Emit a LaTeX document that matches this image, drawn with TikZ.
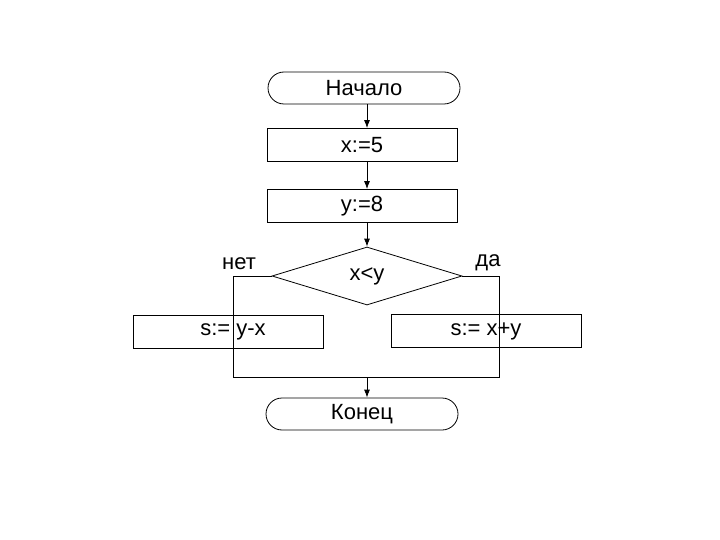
\documentclass[tikz,border=0pt]{standalone}
\usepackage{fontspec}
\setmainfont{Liberation Sans}
\usetikzlibrary{positioning}
\usetikzlibrary{arrows.meta}
\usetikzlibrary{shapes.geometric}
\tikzset{term/.style = {draw, rounded corners=16pt, minimum width=192pt,
                        minimum height=32pt, inner sep=0}}
\tikzset{proc/.style = {draw, minimum width=190pt, minimum height=33pt, inner sep=0}}
\tikzset{cond/.style = {draw, diamond, minimum width=190pt, minimum height=58pt, inner sep=0}}
\tikzset{flow/.style = {-{Latex[length=8pt,width=6pt]}}}
\tikzset{
  every picture/.style={
    every path/.style={line width=0.8pt},
    every node/.style={font=\fontsize{22}{26}\selectfont},
  }
}
\begin{document}
\begin{tikzpicture}[x=1pt,y=-1pt]
        \useasboundingbox (0,0) rectangle (720,540);
        \node[term] (start) at (364,88) {Начало};
        \node[proc] (setx) at (362,145) {\raisebox{-2pt}{x:=5}};
        \node[proc] (sety) at (362,206) {\raisebox{-2pt}{y:=8}};
        \node[cond] (test) at (367,276) {\raisebox{-6pt}{x<y}};
        \node[proc] (diff) at (228,331.5) {\hspace*{10pt}\raisebox{-3pt}{s:= y-x}};
        \node[proc] (sum) at (486,331) {\raisebox{-3pt}{s:= x+y}};
        \node[term] (stop) at (362,414) {\raisebox{-2pt}{Конец}};
        \node (no) at (239,264) {нет};
        \node (yes) at (488,263) {да};
        \coordinate (jl) at (233,377);
        \coordinate (jr) at (499,377);
        \draw[flow] (start.south -| test) -- (setx.north -| test);
        \draw[flow] (setx.south -| test) -- (sety.north -| test);
        \draw[flow] (sety.south -| test) -- (test.north);
        \draw (test.west) -| (jl) -- (jr) |- (test.east);
        \draw[flow] (jl -| test) -- (stop.north -| test);
\end{tikzpicture}
\end{document}
